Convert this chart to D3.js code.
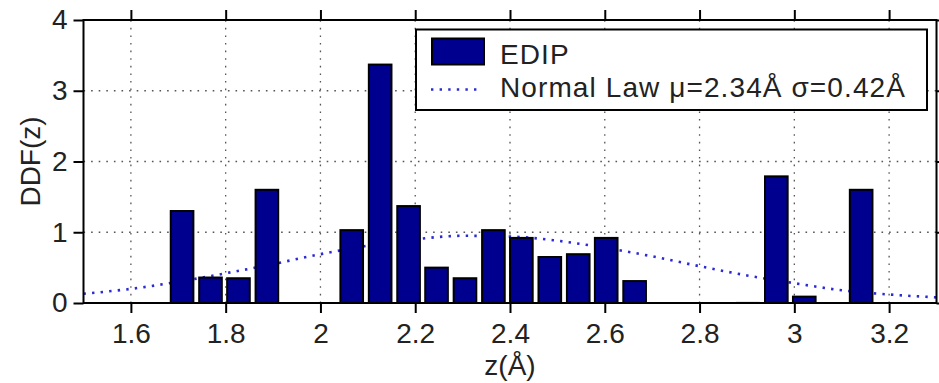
<!doctype html>
<html lang="en">
<head>
<meta charset="utf-8">
<title>DDF(z)</title>
<script src="https://d3js.org/d3.v7.min.js"></script>
<style>
body { margin: 0; background: #fff; }
svg { display: block; font-family: "Liberation Sans", Arial, sans-serif; }
.axis path, .axis line { stroke: #000; stroke-width: 2; }
.axis text { font-size: 28px; fill: #222; font-family: "Liberation Sans", Arial, sans-serif; }
.grid line { stroke: #555; stroke-width: 1.3; stroke-dasharray: 1.6,6; }
.bar { fill: #00008f; stroke: #000; stroke-width: 2; }
</style>
</head>
<body>
<div id="vis"></div>
<script>
// histogram bin centres (z, Å) and DDF values
var binCenters = [1.708, 1.768, 1.827, 1.887, 1.947, 2.006, 2.066, 2.126, 2.186, 2.245,
                  2.305, 2.365, 2.424, 2.484, 2.544, 2.603, 2.663, 2.723, 2.783, 2.842,
                  2.902, 2.962, 3.021, 3.081, 3.141];
var ddfValues  = [1.30, 0.36, 0.35, 1.60, 0, 0, 1.03, 3.37, 1.37, 0.50,
                  0.35, 1.03, 0.92, 0.65, 0.69, 0.92, 0.31, 0, 0, 0,
                  0.01, 1.79, 0.09, 0, 1.60];
var binWidth = 0.0597;

// normal law curve
var normalZ   = [1.5, 1.6, 1.7, 1.8, 1.9, 2.0, 2.1, 2.2, 2.3, 2.4, 2.5, 2.6, 2.7, 2.8, 2.9, 3.0, 3.1, 3.2, 3.3];
var normalVal = [0.13, 0.20, 0.30, 0.42, 0.55, 0.69, 0.81, 0.90, 0.95, 0.94, 0.88, 0.78, 0.66, 0.52, 0.39, 0.28, 0.18, 0.12, 0.08];

var xTicks = [1.6, 1.8, 2, 2.2, 2.4, 2.6, 2.8, 3, 3.2];
var yTicks = [0, 1, 2, 3, 4];
var legendLabels = ["EDIP", "Normal Law \u03bc=2.34\u00c5 \u03c3=0.42\u00c5"];

var width = 939, height = 383;
var plotL = 83.5, plotR = 936.5, plotT = 20, plotB = 303;

var svg = d3.select("#vis").append("svg")
    .attr("width", width)
    .attr("height", height);

var x = d3.scaleLinear().domain([1.5, 3.3]).range([plotL, plotR]);
var y = d3.scaleLinear().domain([0, 4]).range([plotB, plotT]);

// grid
var grid = svg.append("g").attr("class", "grid");
grid.selectAll(".gx").data(xTicks).enter().append("line")
    .attr("x1", function(d) { return x(d); })
    .attr("x2", function(d) { return x(d); })
    .attr("y1", plotB).attr("y2", plotT);
grid.selectAll(".gy").data(yTicks.slice(1, 4)).enter().append("line")
    .attr("y1", function(d) { return y(d); })
    .attr("y2", function(d) { return y(d); })
    .attr("x1", plotL).attr("x2", plotR);

// normal law (behind the bars)
var line = d3.line()
    .x(function(d, i) { return x(normalZ[i]); })
    .y(function(d) { return y(d); })
    .curve(d3.curveMonotoneX);

svg.append("path")
    .datum(normalVal)
    .attr("d", line)
    .attr("fill", "none")
    .attr("stroke", "#2a2ad6")
    .attr("stroke-width", 2.6)
    .attr("stroke-dasharray", "2.4,6.2");

// bars
var bins = binCenters.map(function(c, i) { return { z: c, v: ddfValues[i] }; })
    .filter(function(d) { return d.v > 0; });

svg.selectAll(".bar").data(bins).enter()
  .append("rect")
    .attr("class", "bar")
    .attr("x", function(d) { return x(d.z - binWidth * 0.4); })
    .attr("width", function(d) { return x(d.z + binWidth * 0.4) - x(d.z - binWidth * 0.4); })
    .attr("y", function(d) { return y(d.v); })
    .attr("height", function(d) { return y(0) - y(d.v); })
    .style("stroke", function(d) { return d.v < 0.05 ? "#999" : null; })
    .style("stroke-width", function(d) { return d.v < 0.05 ? 1 : null; });

// axes (box with outward ticks on all sides)
var xAxisB = d3.axisBottom(x).tickValues(xTicks).tickSize(10).tickPadding(10).tickFormat(d3.format("~g"));
var xAxisT = d3.axisTop(x).tickValues(xTicks).tickSize(10).tickFormat("");
var yAxisL = d3.axisLeft(y).tickValues(yTicks).tickSize(10).tickPadding(6).tickFormat(d3.format("d"));
var yAxisR = d3.axisRight(y).tickValues(yTicks).tickSize(10).tickFormat("");

svg.append("g").attr("class", "axis").attr("transform", "translate(0," + plotB + ")").call(xAxisB);
svg.append("g").attr("class", "axis").attr("transform", "translate(0," + plotT + ")").call(xAxisT);
svg.append("g").attr("class", "axis").attr("transform", "translate(" + plotL + ",0)").call(yAxisL);
svg.append("g").attr("class", "axis").attr("transform", "translate(" + plotR + ",0)").call(yAxisR);
svg.selectAll(".axis .domain").remove();
svg.append("rect")
    .attr("x", plotL).attr("y", plotT)
    .attr("width", plotR - plotL).attr("height", plotB - plotT)
    .attr("fill", "none").attr("stroke", "#000").attr("stroke-width", 2);

// axis labels
svg.append("text")
    .attr("x", x(2.4)).attr("y", 375)
    .attr("text-anchor", "middle")
    .attr("font-size", 28).attr("fill", "#222")
    .text("z(\u00c5)");
svg.append("text")
    .attr("transform", "translate(40," + y(2) + ") rotate(-90)")
    .attr("text-anchor", "middle")
    .attr("font-size", 28).attr("fill", "#222")
    .text("DDF(z)");

// legend
var legend = svg.append("g");
legend.append("rect")
    .attr("x", 416).attr("y", 29.5).attr("width", 511).attr("height", 80.5)
    .attr("fill", "#fff").attr("stroke", "#000").attr("stroke-width", 2);
legend.append("rect")
    .attr("x", 432).attr("y", 38.5).attr("width", 52).attr("height", 26)
    .attr("class", "bar");
legend.append("line")
    .attr("x1", 431).attr("x2", 477).attr("y1", 89.5).attr("y2", 89.5)
    .attr("stroke", "#2a2ad6").attr("stroke-width", 2.6).attr("stroke-dasharray", "2.4,6.2");
legend.selectAll(".lt").data(legendLabels).enter().append("text")
    .attr("x", 500)
    .attr("y", function(d, i) { return 64 + i * 33; })
    .attr("font-size", 28).attr("fill", "#222")
    .attr("letter-spacing", 1.1)
    .text(function(d) { return d; });
</script>
</body>
</html>
